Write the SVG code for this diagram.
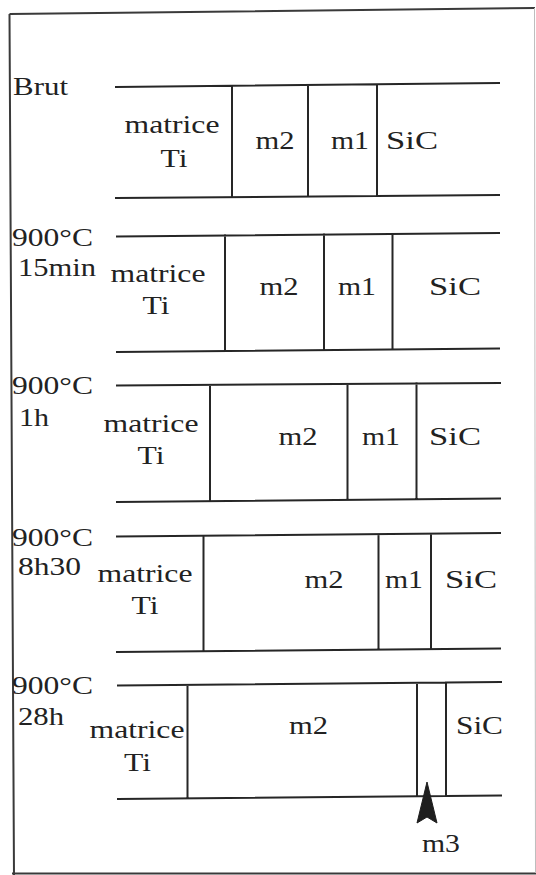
<svg xmlns="http://www.w3.org/2000/svg" width="536" height="875" viewBox="0 0 536 875">
<style>
.ln{stroke:#262626;stroke-width:2;fill:none;stroke-linecap:square}
.fr{stroke:#3a3a3a;stroke-width:2;fill:none}
.fr2{stroke:#bdbdbd;stroke-width:1;fill:none}
.t{font-family:'Liberation Serif','Times New Roman',Times,serif;font-size:26px;fill:#222;font-weight:normal}
.c{text-anchor:middle}
</style>
<rect width="536" height="875" fill="#fff"/>
<g id="frame">
<path class="fr" d="M9.5,14 L535,8 M9.5,14 L14,875 M12,873.5 L536,873.5"/>
<path class="fr2" d="M534.5,8 L535.5,873"/>
</g>
<g id="panel-brut" class="t">
<text x="13" y="95" textLength="55" lengthAdjust="spacingAndGlyphs">Brut</text>
<path class="ln" d="M116,87 L499,83 M116,198 L499,195 M232,86 L232,197 M308,85 L308,196.5 M377,84.5 L377,196"/>
<text class="c" x="172" y="133" textLength="95" lengthAdjust="spacingAndGlyphs">matrice</text>
<text class="c" x="174" y="167" textLength="27" lengthAdjust="spacingAndGlyphs">Ti</text>
<text class="c" x="275" y="149" textLength="39" lengthAdjust="spacingAndGlyphs">m2</text>
<text class="c" x="350" y="149" textLength="38" lengthAdjust="spacingAndGlyphs">m1</text>
<text class="c" x="412" y="149" textLength="52" lengthAdjust="spacingAndGlyphs">SiC</text>
</g>
<g id="panel-15min" class="t">
<text x="12" y="246" textLength="81" lengthAdjust="spacingAndGlyphs">900°C</text>
<text x="18" y="276" textLength="78" lengthAdjust="spacingAndGlyphs">15min</text>
<path class="ln" d="M117,236.5 L499,233 M117,352 L499,348.5 M225,235.5 L225,351 M324,234.5 L324,350 M392.5,234 L392.5,349.5"/>
<text class="c" x="158" y="282" textLength="95" lengthAdjust="spacingAndGlyphs">matrice</text>
<text class="c" x="156" y="314" textLength="27" lengthAdjust="spacingAndGlyphs">Ti</text>
<text class="c" x="279" y="295" textLength="39" lengthAdjust="spacingAndGlyphs">m2</text>
<text class="c" x="357" y="295" textLength="38" lengthAdjust="spacingAndGlyphs">m1</text>
<text class="c" x="455" y="295" textLength="52" lengthAdjust="spacingAndGlyphs">SiC</text>
</g>
<g id="panel-1h" class="t">
<text x="12" y="394" textLength="81" lengthAdjust="spacingAndGlyphs">900°C</text>
<text x="19" y="426" textLength="30" lengthAdjust="spacingAndGlyphs">1h</text>
<path class="ln" d="M117,385.5 L500,383 M117,502 L500,498.5 M210,385 L210,501 M347.5,384 L347.5,500 M416.5,383.5 L416.5,499.5"/>
<text class="c" x="151" y="432" textLength="95" lengthAdjust="spacingAndGlyphs">matrice</text>
<text class="c" x="151" y="464" textLength="27" lengthAdjust="spacingAndGlyphs">Ti</text>
<text class="c" x="298" y="445" textLength="39" lengthAdjust="spacingAndGlyphs">m2</text>
<text class="c" x="381" y="445" textLength="38" lengthAdjust="spacingAndGlyphs">m1</text>
<text class="c" x="455" y="445" textLength="52" lengthAdjust="spacingAndGlyphs">SiC</text>
</g>
<g id="panel-8h30" class="t">
<text x="12" y="546" textLength="81" lengthAdjust="spacingAndGlyphs">900°C</text>
<text x="18" y="575" textLength="63" lengthAdjust="spacingAndGlyphs">8h30</text>
<path class="ln" d="M117,536.5 L500,533 M117,652 L500,648.5 M203.5,536 L203.5,651 M378.5,534.5 L378.5,649.5 M431,534 L431,649"/>
<text class="c" x="145" y="582" textLength="95" lengthAdjust="spacingAndGlyphs">matrice</text>
<text class="c" x="145" y="614" textLength="27" lengthAdjust="spacingAndGlyphs">Ti</text>
<text class="c" x="324" y="588" textLength="39" lengthAdjust="spacingAndGlyphs">m2</text>
<text class="c" x="404" y="588" textLength="38" lengthAdjust="spacingAndGlyphs">m1</text>
<text class="c" x="471" y="588" textLength="52" lengthAdjust="spacingAndGlyphs">SiC</text>
</g>
<g id="panel-28h" class="t">
<text x="12" y="694" textLength="81" lengthAdjust="spacingAndGlyphs">900°C</text>
<text x="18" y="725" textLength="46" lengthAdjust="spacingAndGlyphs">28h</text>
<path class="ln" d="M118,685.5 L501,682 M118,799 L501,795.5 M187.5,685 L187.5,798.5 M417,683 L417,796.5 M446,682.5 L446,796"/>
<text class="c" x="137" y="738" textLength="95" lengthAdjust="spacingAndGlyphs">matrice</text>
<text class="c" x="137.5" y="771" textLength="27" lengthAdjust="spacingAndGlyphs">Ti</text>
<text class="c" x="308.5" y="734" textLength="39" lengthAdjust="spacingAndGlyphs">m2</text>
<text class="c" x="479.5" y="734" textLength="47" lengthAdjust="spacingAndGlyphs">SiC</text>
</g>
<g id="label-m3" class="t">
<text class="c" x="441" y="852" textLength="38" lengthAdjust="spacingAndGlyphs">m3</text>
</g>
<g id="connectors">
<path d="M427,782 L437,823 L427,817 L417,823 Z" fill="#1e1e1e" stroke="#1e1e1e" stroke-width="1" stroke-linejoin="round"/>
</g>
</svg>
